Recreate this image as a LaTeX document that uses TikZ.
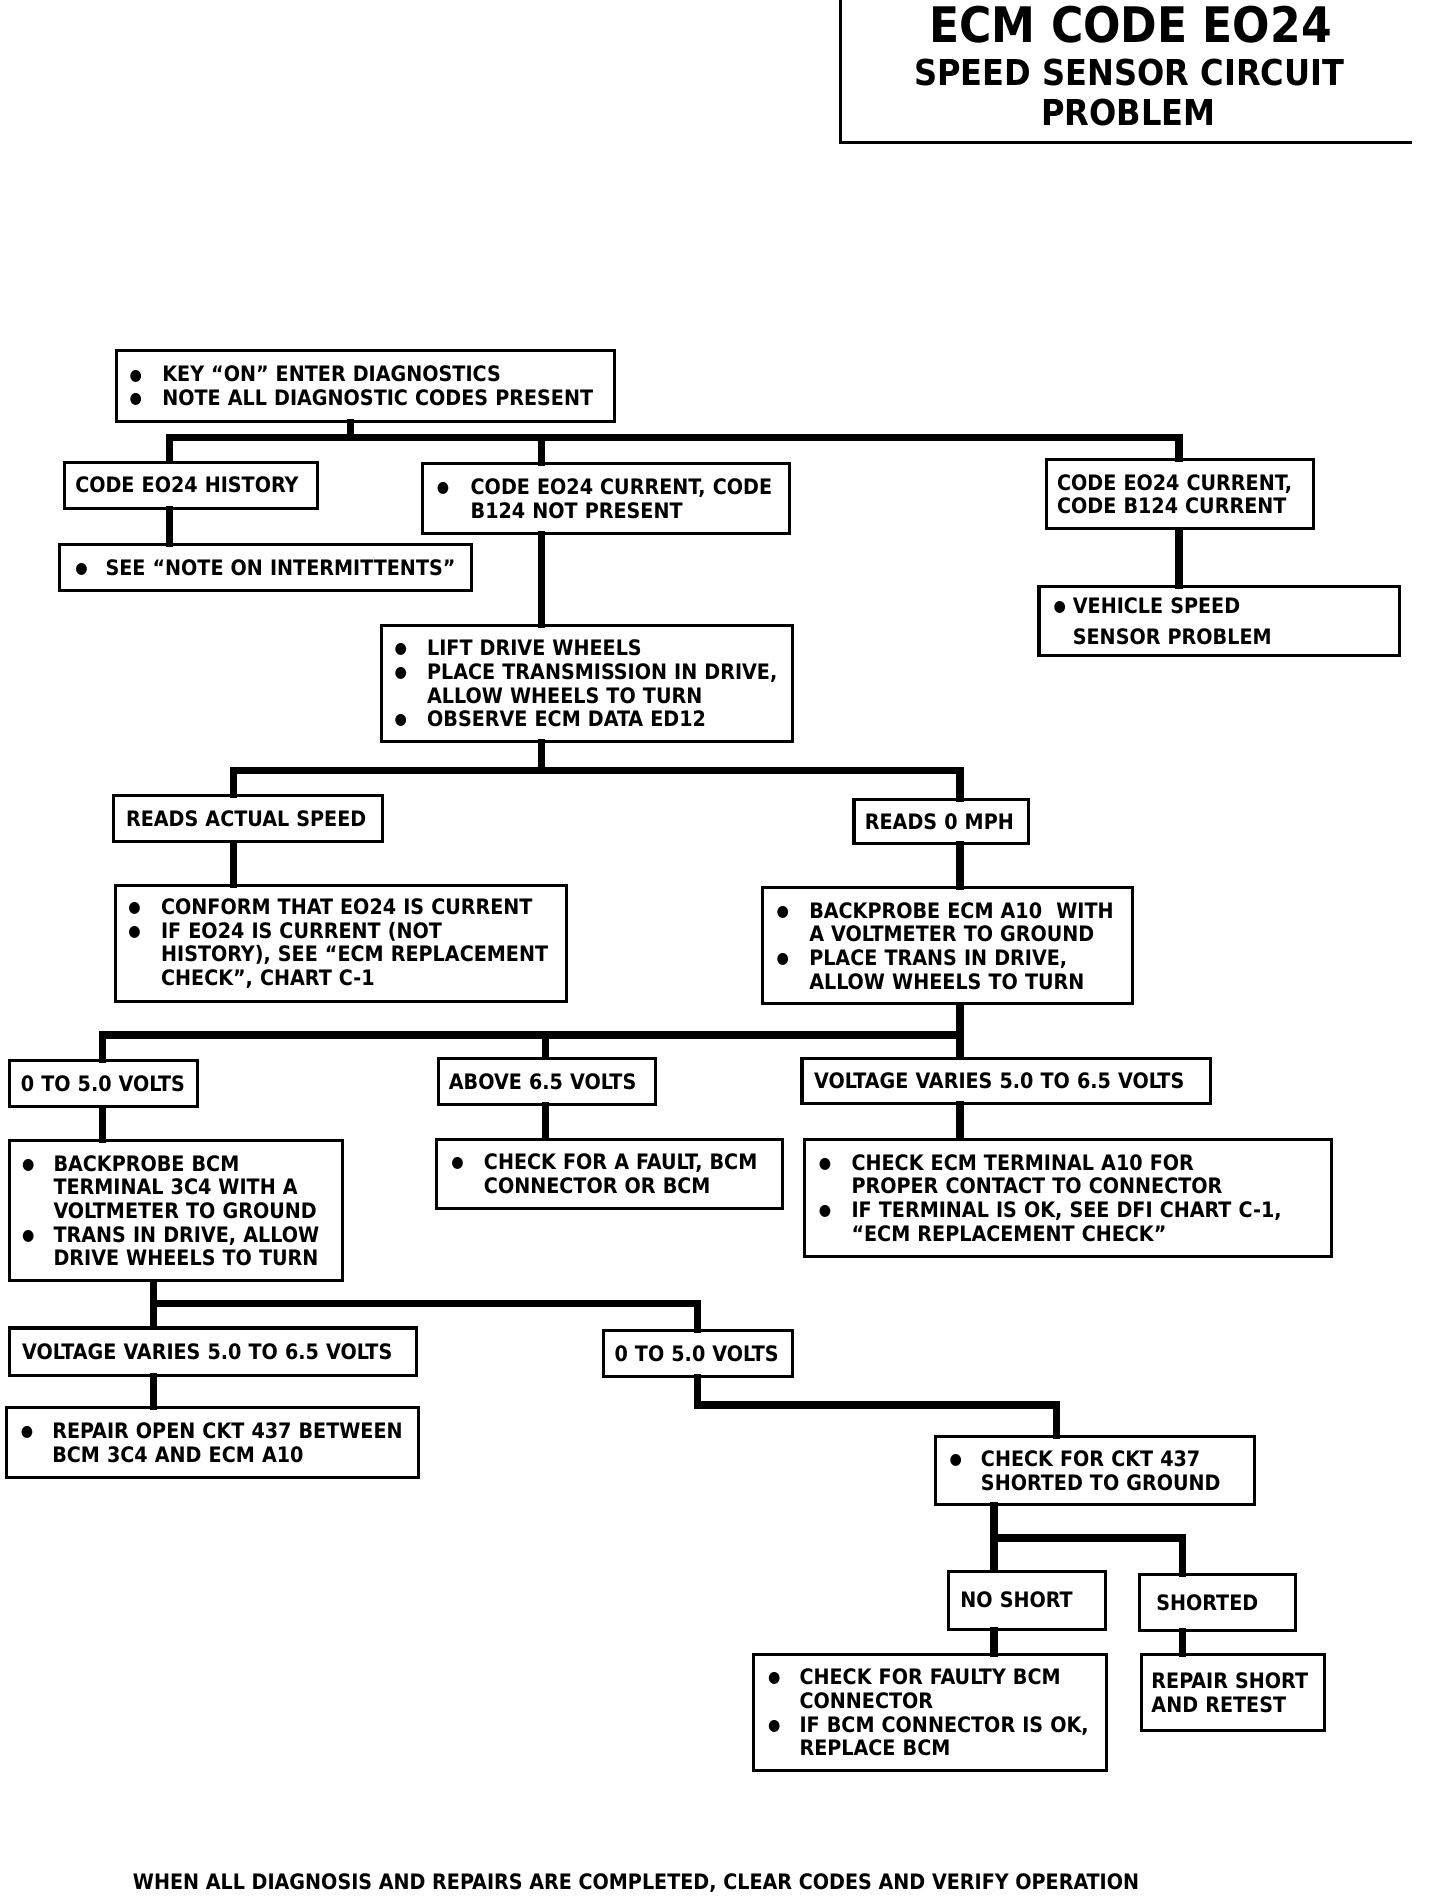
\documentclass[tikz,border=0pt]{standalone}
\usepackage{fontspec}
\setmainfont{DejaVu Sans Condensed}
\newcommand{\bl}[1][26pt]{\makebox[#1][l]{\raisebox{1.6pt}{\fontsize{13}{13}\selectfont ●}}}
\newcommand{\ind}[1][26pt]{\hspace*{#1}}

\begin{document}
\begin{tikzpicture}[x=1pt, y=-1pt,
    box/.style={draw, line width=2.5pt, anchor=north west, align=left, inner ysep=0pt,
        font=\bfseries\fontsize{17.6}{19.5}\selectfont},
    conn/.style={line width=6pt, line cap=rect},
    ttl/.style={font=\bfseries\fontsize{#1}{#1}\selectfont}]
    \useasboundingbox (0,0) rectangle (1191,1568);

    % title
    \draw[line width=2pt] (695,0) -- (695,118) -- (1168,118);
    \node[ttl=40.5] (ttla) at (935,20) {ECM CODE EO24};
    \node[ttl=29.5] (ttlb) at (934,60) {SPEED SENSOR CIRCUIT};
    \node[ttl=29.5] (ttlc) at (933,93) {PROBLEM};

    % boxes
    \node[box, minimum width=412pt, minimum height=58pt, inner xsep=11pt, text width=390pt] (top) at (95,289)
        {\bl[27pt]KEY “ON” ENTER DIAGNOSTICS\\ \bl[27pt]NOTE ALL DIAGNOSTIC CODES PRESENT};
    \node[box, minimum width=209pt, minimum height=38pt, inner xsep=9pt, text width=191pt] (hist) at (52,381)
        {CODE EO24 HISTORY};
    \node[box, minimum width=341pt, minimum height=38pt, inner xsep=13pt, text width=315pt] (intm) at (48,449)
        {\bl[25pt]SEE “NOTE ON INTERMITTENTS”};
    \node[box, minimum width=304pt, minimum height=58pt, inner xsep=12pt, text width=280pt] (nopres) at (348,382)
        {\bl[28pt]CODE EO24 CURRENT, CODE\\ \ind[28pt]B124 NOT PRESENT};
    \node[box, minimum width=221pt, minimum height=57pt, inner xsep=9pt, text width=203pt] (bcur) at (864,379)
        {CODE EO24 CURRENT,\\CODE B124 CURRENT};
    \node[box, minimum width=298pt, minimum height=57pt, inner xsep=12pt, text width=274pt] (vss) at (858,484)
        {\bl[16pt]VEHICLE SPEED\\[6pt] \ind[16pt]SENSOR PROBLEM};
    \node[box, minimum width=340pt, minimum height=96pt, inner xsep=11pt, text width=318pt] (lift) at (314,516)
        {\bl[27pt]LIFT DRIVE WHEELS\\ \bl[27pt]PLACE TRANSMISSION IN DRIVE,\\ \ind[27pt]ALLOW WHEELS TO TURN\\ \bl[27pt]OBSERVE ECM DATA ED12};
    \node[box, minimum width=222pt, minimum height=38pt, inner xsep=10pt, text width=202pt] (actual) at (93,657)
        {READS ACTUAL SPEED};
    \node[box, minimum width=373pt, minimum height=96pt, inner xsep=11pt, text width=351pt] (conf) at (94,731)
        {\bl[27pt]CONFORM THAT EO24 IS CURRENT\\ \bl[27pt]IF EO24 IS CURRENT (NOT\\ \ind[27pt]HISTORY), SEE “ECM REPLACEMENT\\ \ind[27pt]CHECK”, CHART C-1};
    \node[box, minimum width=144pt, minimum height=36pt, inner xsep=9pt, text width=126pt] (zero) at (705,660)
        {READS 0 MPH};
    \node[box, minimum width=306pt, minimum height=96pt, inner xsep=12pt, text width=282pt] (probe) at (629,733)
        {\bl[27pt]BACKPROBE ECM A10 \ WITH\\ \ind[27pt]A VOLTMETER TO GROUND\\ \bl[27pt]PLACE TRANS IN DRIVE,\\ \ind[27pt]ALLOW WHEELS TO TURN};
    \node[box, minimum width=155pt, minimum height=38pt, inner xsep=9pt, text width=137pt] (low) at (7,876)
        {0 TO 5.0 VOLTS};
    \node[box, minimum width=180pt, minimum height=38pt, inner xsep=9pt, text width=162pt] (high) at (361,874)
        {ABOVE 6.5 VOLTS};
    \node[box, minimum width=338pt, minimum height=37pt, inner xsep=10pt, text width=318pt] (vary) at (662,874)
        {VOLTAGE VARIES 5.0 TO 6.5 VOLTS};
    \node[box, minimum width=275pt, minimum height=116pt, inner xsep=10pt, text width=255pt] (bcm) at (7,942)
        {\bl BACKPROBE BCM\\ \ind TERMINAL 3C4 WITH A\\ \ind VOLTMETER TO GROUND\\ \bl TRANS IN DRIVE, ALLOW\\ \ind DRIVE WHEELS TO TURN};
    \node[box, minimum width=286pt, minimum height=57pt, inner xsep=12pt, text width=262pt] (fault) at (360,941)
        {\bl[27pt]CHECK FOR A FAULT, BCM\\ \ind[27pt]CONNECTOR OR BCM};
    \node[box, minimum width=436pt, minimum height=97pt, inner xsep=12pt, text width=412pt] (term) at (664,941)
        {\bl[27pt]CHECK ECM TERMINAL A10 FOR\\ \ind[27pt]PROPER CONTACT TO CONNECTOR\\ \bl[27pt]IF TERMINAL IS OK, SEE DFI CHART C-1,\\ \ind[27pt]“ECM REPLACEMENT CHECK”};
    \node[box, minimum width=336pt, minimum height=39pt, inner xsep=10pt, text width=316pt] (vary2) at (7,1097)
        {VOLTAGE VARIES 5.0 TO 6.5 VOLTS};
    \node[box, minimum width=156pt, minimum height=38pt, inner xsep=9pt, text width=138pt] (low2) at (498,1099)
        {0 TO 5.0 VOLTS};
    \node[box, minimum width=341pt, minimum height=58pt, inner xsep=12pt, text width=317pt] (open) at (4,1163)
        {\bl REPAIR OPEN CKT 437 BETWEEN\\ \ind BCM 3C4 AND ECM A10};
    \node[box, minimum width=264pt, minimum height=56pt, inner xsep=12pt, text width=240pt] (ckt) at (772,1187)
        {\bl CHECK FOR CKT 437\\ \ind SHORTED TO GROUND};
    \node[box, minimum width=130pt, minimum height=48pt, inner xsep=10pt, text width=110pt] (noshort) at (783,1298)
        {NO SHORT};
    \node[box, minimum width=129pt, minimum height=46pt, inner xsep=14pt, text width=101pt] (shorted) at (941,1301)
        {SHORTED};
    \node[box, minimum width=292pt, minimum height=96pt, inner xsep=12pt, text width=268pt] (faulty) at (622,1367)
        {\bl CHECK FOR FAULTY BCM\\ \ind CONNECTOR\\ \bl IF BCM CONNECTOR IS OK,\\ \ind REPLACE BCM};
    \node[box, minimum width=151pt, minimum height=63pt, inner xsep=8pt, text width=135pt] (retest) at (943,1367)
        {REPAIR SHORT\\AND RETEST};

    \node[font=\bfseries\fontsize{17.6}{18}\selectfont] (note) at (526,1557)
        {WHEN ALL DIAGNOSIS AND REPAIRS ARE COMPLETED, CLEAR CODES AND VERIFY OPERATION};

    % connectors
    \draw[conn] (290,0 |- top.south) -- (290,362);
    \draw[conn] (140,0 |- hist.north) |- (975,362) -- (975,0 |- bcur.north);
    \draw[conn] (448,362) -- (448,0 |- nopres.north);
    \draw[conn] (140,0 |- hist.south) -- (140,0 |- intm.north);
    \draw[conn] (975,0 |- bcur.south) -- (975,0 |- vss.north);
    \draw[conn] (448,0 |- nopres.south) -- (448,0 |- lift.north);
    \draw[conn] (448,0 |- lift.south) -- (448,637);
    \draw[conn] (193,0 |- actual.north) |- (794,637) -- (794,0 |- zero.north);
    \draw[conn] (193,0 |- actual.south) -- (193,0 |- conf.north);
    \draw[conn] (794,0 |- zero.south) -- (794,0 |- probe.north);
    \draw[conn] (794,0 |- probe.south) -- (794,0 |- vary.north);
    \draw[conn] (85,0 |- low.north) |- (794,856);
    \draw[conn] (451,856) -- (451,0 |- high.north);
    \draw[conn] (85,0 |- low.south) -- (85,0 |- bcm.north);
    \draw[conn] (451,0 |- high.south) -- (451,0 |- fault.north);
    \draw[conn] (794,0 |- vary.south) -- (794,0 |- term.north);
    \draw[conn] (127,0 |- bcm.south) -- (127,0 |- vary2.north);
    \draw[conn] (127,1078) -| (577,0 |- low2.north);
    \draw[conn] (127,0 |- vary2.south) -- (127,0 |- open.north);
    \draw[conn] (577,0 |- low2.south) |- (874,1162) -- (874,0 |- ckt.north);
    \draw[conn] (822,0 |- ckt.south) -- (822,0 |- noshort.north);
    \draw[conn] (822,1272) -| (978,0 |- shorted.north);
    \draw[conn] (822,0 |- noshort.south) -- (822,0 |- faulty.north);
    \draw[conn] (978,0 |- shorted.south) -- (978,0 |- retest.north);
\end{tikzpicture}
\end{document}
